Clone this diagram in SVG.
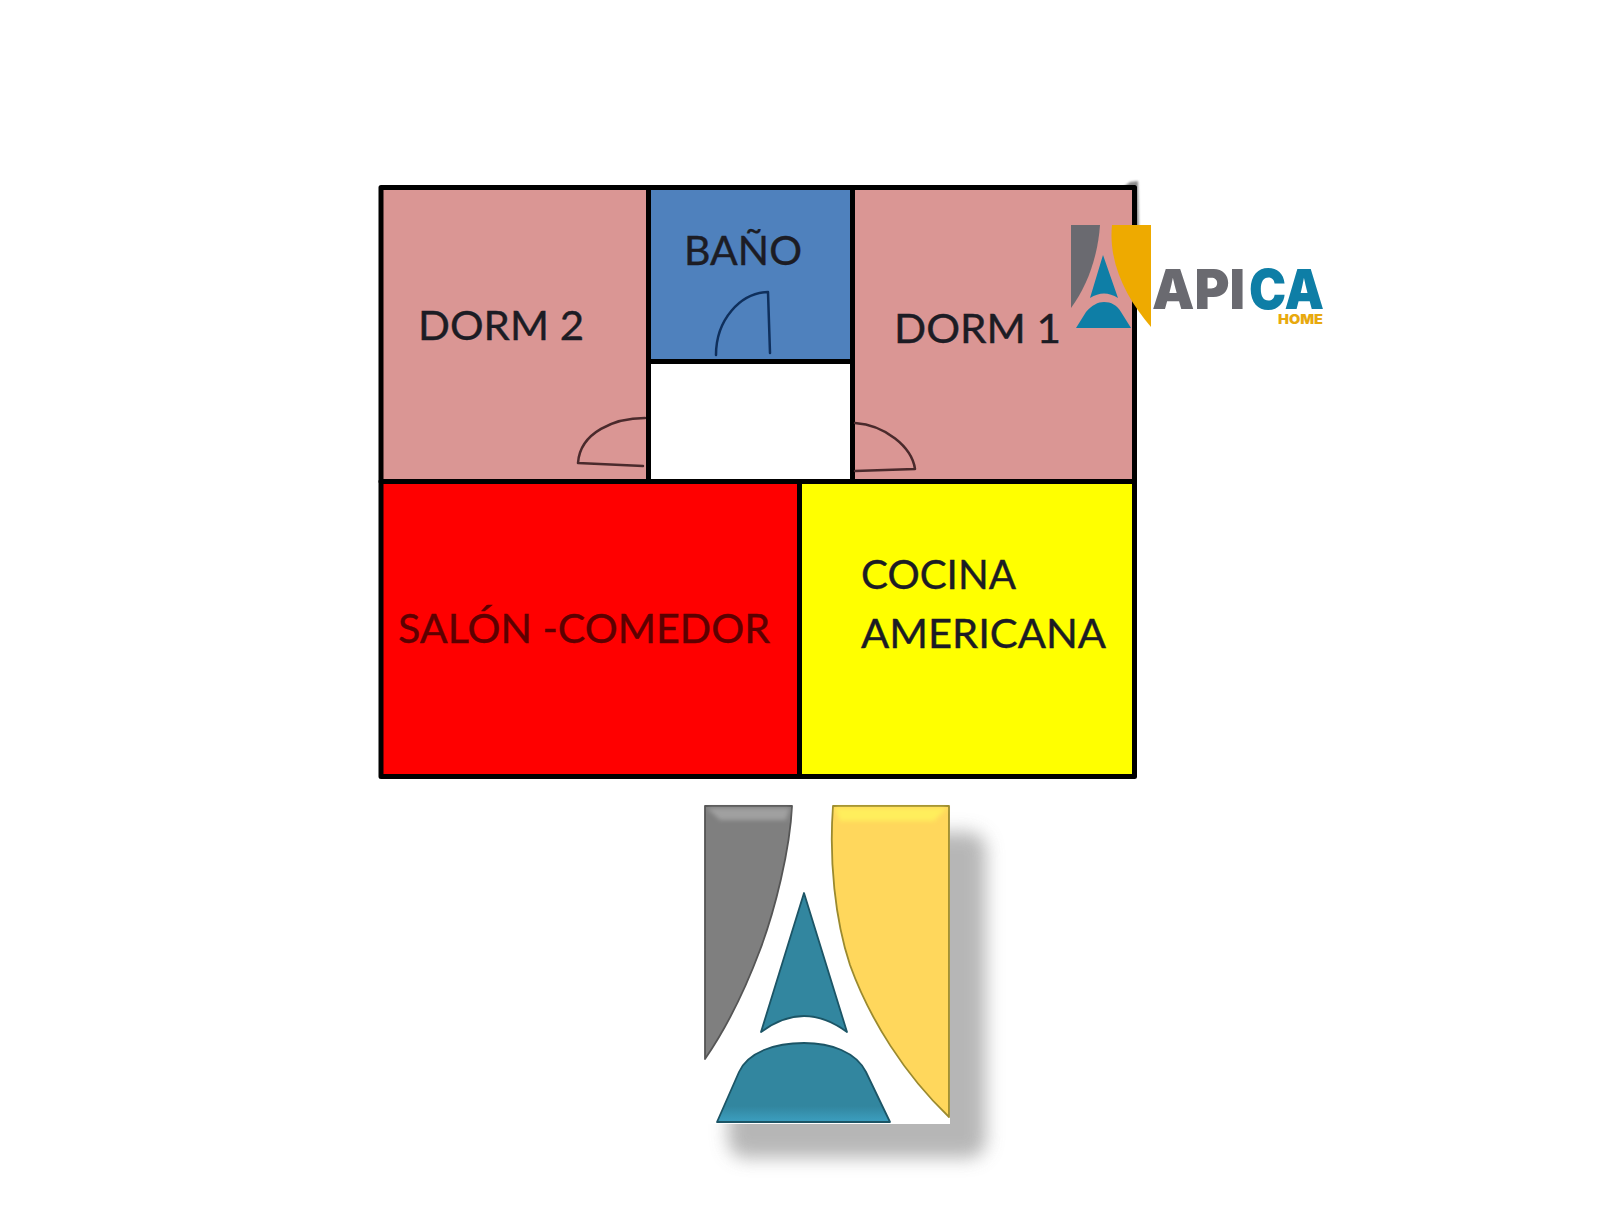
<svg xmlns="http://www.w3.org/2000/svg" width="1600" height="1207" viewBox="0 0 1600 1207">
<style>
.room{stroke:#000;stroke-width:5;stroke-linejoin:round}
.label{font-family:"Lato","Liberation Sans",sans-serif;font-size:40px;fill:#1c1c24;stroke:#1c1c24;stroke-width:.4}
.door{fill:none;stroke-width:2.5;stroke-linecap:round;stroke-linejoin:round}
.big{stroke-width:1.8;stroke-linejoin:round}
.brand{font-family:"Inter","Liberation Sans",sans-serif;font-weight:900}
</style>
<defs>
<filter id="soft" x="-20%" y="-20%" width="140%" height="140%"><feGaussianBlur stdDeviation="9"/></filter>
<filter id="smudge" x="-50%" y="-50%" width="200%" height="200%"><feGaussianBlur stdDeviation="1.2"/></filter>
<filter id="bevel" x="-10%" y="-30%" width="120%" height="160%"><feGaussianBlur stdDeviation="2"/></filter>
<linearGradient id="baseFill" x1="0" y1="0" x2="0" y2="1"><stop offset="0" stop-color="#32869f"/><stop offset="0.8" stop-color="#32869f"/><stop offset="1" stop-color="#3c9fc0"/></linearGradient>
</defs>
<rect width="1600" height="1207" fill="#fff"/>

<g id="smudges" filter="url(#smudge)">
<path d="M1122 188 L1130 182 L1138 181 L1139 230 L1134 230 Z" fill="#8a8a8a"/>
<path d="M1043 483 L1062 483 L1061 488 L1050 488 Z" fill="#6b6b20"/>
</g>

<g id="dorm2"><rect class="room" x="381" y="187.500" width="267.500" height="294" fill="#da9694"/>
<text class="label" x="418" y="340" textLength="166" lengthAdjust="spacingAndGlyphs">DORM 2</text>
<path class="door" stroke="#4a2a2c" d="M645 418 C615 418 580 432 578 463 L643 466"/></g>

<g id="bano"><rect class="room" x="648.500" y="187.500" width="204" height="174" fill="#4f81bd"/>
<text class="label" x="684" y="265" textLength="118" lengthAdjust="spacingAndGlyphs">BAÑO</text>
<path class="door" stroke="#0f2f5c" d="M716 355 C716 320 740 293 768 292 L770 353"/></g>

<g id="pasillo"><rect class="room" x="648.500" y="361.500" width="204" height="120" fill="#fff"/></g>

<g id="dorm1"><rect class="room" x="852.500" y="187.500" width="282" height="294" fill="#da9694"/>
<text class="label" x="894" y="343" textLength="167" lengthAdjust="spacingAndGlyphs">DORM 1</text>
<path class="door" stroke="#4a2a2c" d="M855 423 C885 425 912 447 915 469 L855 471"/></g>

<g id="salon"><rect class="room" x="381" y="481.500" width="418.500" height="295" fill="#f00"/>
<text class="label" x="398" y="643" textLength="372" lengthAdjust="spacingAndGlyphs" style="fill:#5c0000;stroke:#5c0000">SALÓN -COMEDOR</text></g>

<g id="cocina"><rect class="room" x="799.500" y="481.500" width="335" height="295" fill="#ff0"/>
<text class="label" x="861" y="589" textLength="155" lengthAdjust="spacingAndGlyphs">COCINA</text>
<text class="label" x="861" y="648" textLength="245" lengthAdjust="spacingAndGlyphs">AMERICANA</text></g>

<g id="logo-small">
<path d="M1071 225 L1100 225 C1098 255 1088 285 1071 308 Z" fill="#6a6a70"/>
<path d="M1112 225 L1151 225 L1151 327 C1128 300 1108 265 1112 225 Z" fill="#eeaa00"/>
<path d="M1103 255 L1118 298 Q1104 289 1090 298 Z" fill="#0e7ea6"/>
<path d="M1076 328 L1086 312 C1092 305 1098 302 1104 302 C1111 302 1117 305 1121 312 L1131 328 Z" fill="#0e7ea6"/>
<text class="brand" x="1152" y="309" font-size="55" fill="#6a6a70" textLength="93" lengthAdjust="spacingAndGlyphs">API</text>
<text class="brand" x="1249" y="309" font-size="55" fill="#0e7ea6" textLength="75" lengthAdjust="spacingAndGlyphs">CA</text>
<text class="brand" x="1278" y="324" font-size="13" fill="#e8a90e" textLength="45" lengthAdjust="spacingAndGlyphs">HOME</text>
</g>

<g id="logo-large">
<rect x="728" y="832" width="258" height="326" rx="18" fill="#aaaaaa" opacity="0.85" filter="url(#soft)"/>
<rect x="690" y="795" width="260" height="329" fill="#fff"/>
<path class="big" d="M705 806 L792 806 C790 850 775 910 760 950 C745 990 725 1030 705 1059 Z" fill="#7f7f7f" stroke="#555"/>
<path d="M707 808 L790 808 L786 820 L720 820 Z" fill="#a0a0a0" filter="url(#bevel)"/>
<path class="big" d="M833 806 L949 806 L949 1117 C905 1075 870 1020 850 965 C835 920 829 860 833 806 Z" fill="#ffd75c" stroke="#9b8a2e"/>
<path d="M835 808 L947 808 L934 821 L840 821 Z" fill="#ffee5c" filter="url(#bevel)"/>
<path class="big" d="M804 893 L847 1032 Q804 1000 761 1032 Z" fill="#32869f" stroke="#1c5566"/>
<path class="big" d="M717 1122 L739 1072 C748 1052 775 1043 804 1043 C831 1043 856 1052 866 1072 L890 1122 Z" fill="url(#baseFill)" stroke="#1c5566"/>
</g>
</svg>
